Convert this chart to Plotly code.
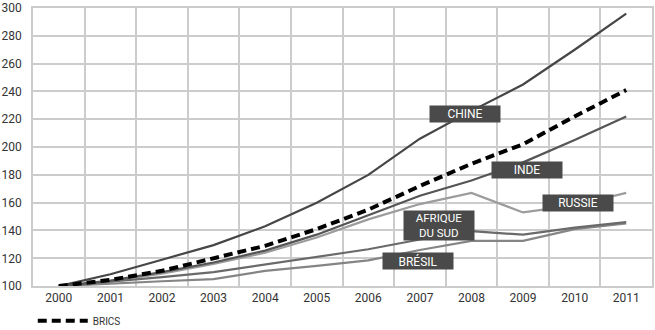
import plotly.graph_objects as go

years = ["2000", "2001", "2002", "2003", "2004", "2005", "2006", "2007", "2008", "2009", "2010", "2011"]
chine = [100, 108.5, 119, 129.5, 143, 160, 180, 206, 226, 245, 270, 296]
brics = [100, 104.5, 111, 120, 129, 141, 155, 172, 188, 202, 222, 241]
inde = [100, 104, 110, 117, 125.5, 137, 151, 165, 176, 189, 205, 222]
russie = [100, 103.5, 109, 116, 124, 135, 148, 159, 167, 153, 158, 167]
afrique = [100, 103, 106.5, 110, 115.5, 120.5, 126.5, 133.5, 139.5, 137, 142, 146]
bresil = [100, 102, 103.5, 105, 111, 114.5, 118.5, 126, 132.5, 132.5, 141, 145]
y_ticks = [100, 120, 140, 160, 180, 200, 220, 240, 260, 280, 300]

FONT = "Roboto"
fig = go.Figure()

solid = [
    ("RUSSIE", russie, "#9c9c9c"),
    ("BRÉSIL", bresil, "#858585"),
    ("AFRIQUE DU SUD", afrique, "#6a6a6a"),
    ("INDE", inde, "#555555"),
    ("CHINE", chine, "#464646"),
]
for name, vals, col in solid:
    fig.add_trace(go.Scatter(x=years, y=vals, mode="lines", name=name,
                             line=dict(color=col, width=2.2), showlegend=False))

fig.add_trace(go.Scatter(x=years, y=brics, mode="lines", name="BRICS",
                         line=dict(color="#000000", width=4, dash="9px,5px")))

labels = [
    ("CHINE", 7.87, 224.0),
    ("INDE", 9.07, 183.2),
    ("RUSSIE", 10.07, 159.5),
    ("BRÉSIL", 6.96, 118.3),
    ("AFRIQUE<br>DU SUD", 7.38, 143.4),
]
for txt, xv, yv in labels:
    two = "<br>" in txt
    fig.add_annotation(x=xv, y=yv, xref="x", yref="y", text=txt, showarrow=False,
                       font=dict(family=FONT, size=11.5 if two else 12, color="white"),
                       bgcolor="#4a4a4a", width=68, height=27 if two else 14, borderpad=1)

fig.update_layout(
    width=655, height=330,
    margin=dict(l=33, r=1, t=8, b=43),
    paper_bgcolor="white", plot_bgcolor="white",
    font=dict(family=FONT, size=12, color="#333333"),
    showlegend=True,
    legend=dict(orientation="h", x=0.05, xanchor="left", xref="container",
                y=0.028, yanchor="middle", yref="container",
                font=dict(family=FONT, size=10, color="#333333"),
                bgcolor="rgba(0,0,0,0)", itemwidth=50),
    xaxis=dict(type="category", range=[-0.5, 11.5], tickson="boundaries",
               showgrid=True, gridcolor="#cccccc", gridwidth=1.5,
               ticks="outside", ticklen=8, tickcolor="rgba(0,0,0,0)",
               showline=True, linecolor="#cccccc", linewidth=1.5, mirror=True,
               zeroline=False, tickfont=dict(family=FONT, size=12, color="#333333")),
    yaxis=dict(range=[100, 300], tickvals=y_ticks,
               showgrid=True, gridcolor="#cccccc", gridwidth=1.5,
               ticks="outside", ticklen=7, tickcolor="rgba(0,0,0,0)",
               showline=True, linecolor="#cccccc", linewidth=1.5, mirror=True,
               zeroline=False, tickfont=dict(family=FONT, size=12, color="#333333")),
)

fig.write_html("out.html")
